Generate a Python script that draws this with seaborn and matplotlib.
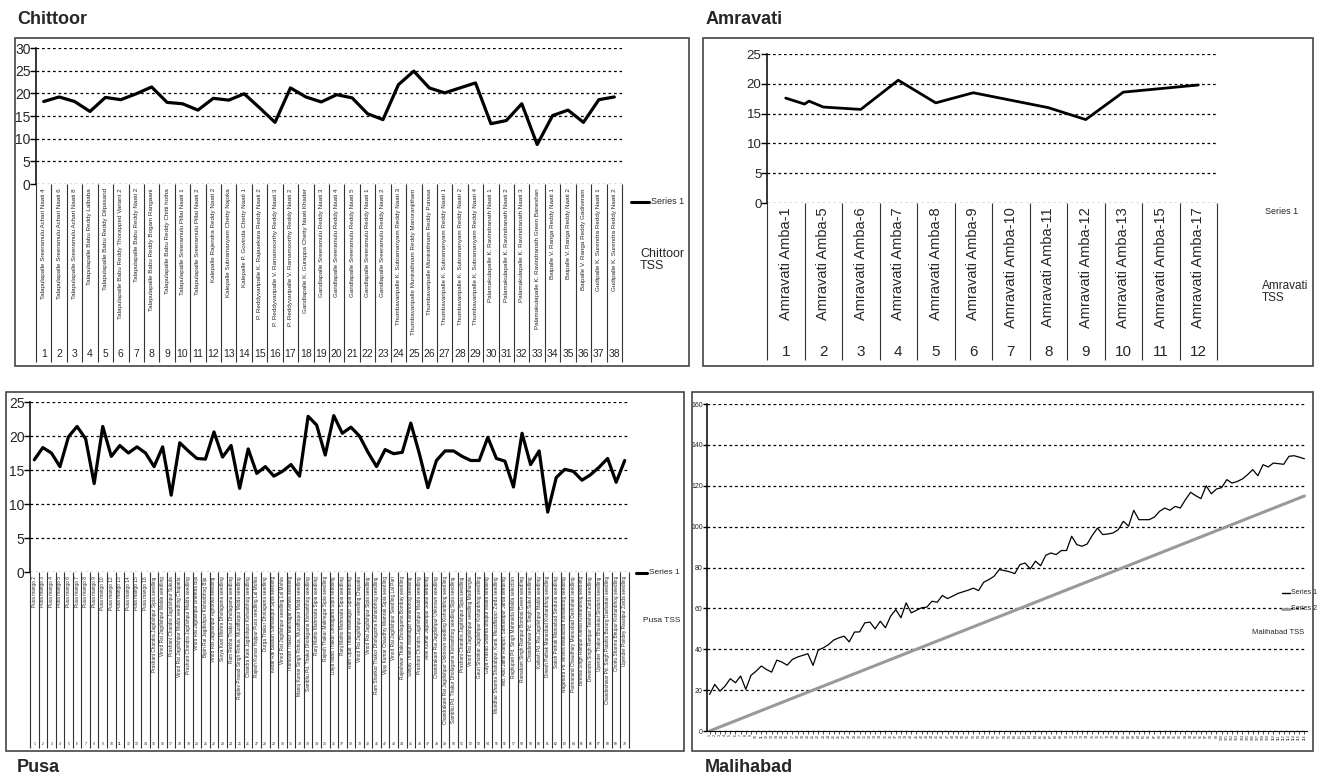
import numpy as np
import pandas as pd
import seaborn as sns
import matplotlib.pyplot as plt
from matplotlib import font_manager
from matplotlib.patches import Rectangle
from matplotlib.lines import Line2D

# ---------------- data ----------------
chittoor_names = [
    'Talapulapalle Sreeramulu Achari Naati 4', 'Talapulapalle Sreeramulu Achari Naati 6',
    'Talapulapalle Sreeramulu Achari Naati 8', 'Talapulapalle Babu Reddy Lalbaba',
    'Talapulapalle Babu Reddy Dilpasand', 'Talapulapalle Babu Reddy Thorapped Variant 2',
    'Talapulapalle Babu Reddy Naati 2', 'Talapulapalle Babu Reddy Bogam Rangaani',
    'Talapulapalle Babu Reddy Chitti hotha', 'Talapulapalle Sreeramulu Pillai Naati 1',
    'Talapulapalle Sreeramulu Pillai Naati 2', 'Kalepalle Rajendra Reddy Naati 2',
    'Kalepalle Subramanyam Chetty Najoka', 'Kalepalle P. Govinda Chetty Naati 1',
    'P. Reddyvaripalle K. Rajasekara Reddy Naati 2', 'P. Reddyvaripalle V. Ramamoorthy Reddy Naati 3',
    'P. Reddyvaripalle V. Ramamoorthy Reddy Naati 2', 'Gandlapalle K. Gurappa Chetty Naati Khader',
    'Gandlapalle Sreeramulu Reddy Naati 3', 'Gandlapalle Sreeramulu Reddy Naati 4',
    'Gandlapalle Sreeramulu Reddy Naati 5', 'Gandlapalle Sreeramulu Reddy Naati 1',
    'Gandlapalle Sreeramulu Reddy Naati 2', 'Thumbavaripalle K. Subramanyam Reddy Naati 3',
    'Thumbavaripalle Munirathnam Reddy Manoranjitham', 'Thumbavaripalle Munirathnam Reddy Punasa',
    'Thumbavaripalle K. Subramanyam Reddy Naati 1', 'Thumbavaripalle K. Subramanyam Reddy Naati 2',
    'Thumbavaripalle K. Subramanyam Reddy Naati 4', 'Palamakulapalle K. Ravindranath Naati 1',
    'Palamakulapalle K. Ravindranath Naati 2', 'Palamakulapalle K. Ravindranath Naati 3',
    'Palamakulapalle K. Ravindranath Green Baneshan', 'Baipalle V. Ranga Reddy Naati 1',
    'Baipalle V. Ranga Reddy Naati 2', 'Baipalle V. Ranga Reddy Gadiveram',
    'Gudipalle K. Surendra Reddy Naati 1', 'Gudipalle K. Surendra Reddy Naati 2']
chittoor_tss = [18.2, 19.2, 18.2, 16.0, 19.1, 18.6, 19.9, 21.4, 18.0, 17.7,
                16.3, 18.9, 18.5, 19.9, 16.8, 13.6, 21.2, 19.2, 18.1, 19.7,
                19.0, 15.5, 14.2, 21.9, 24.9, 21.2, 20.1, 21.2, 22.3, 13.3,
                14.0, 17.7, 8.7, 15.1, 16.3, 13.6, 18.6, 19.2]

amravati_names = ['Amravati Amba-1', 'Amravati Amba-5', 'Amravati Amba-6', 'Amravati Amba-7',
                  'Amravati Amba-8', 'Amravati Amba-9', 'Amravati Amba-10', 'Amravati Amba-11',
                  'Amravati Amba-12', 'Amravati Amba-13', 'Amravati Amba-15', 'Amravati Amba-17']
amravati_pos = [1, 1.5, 1.62, 2, 3, 4, 5, 6, 7, 8, 9, 10, 11, 12]
amravati_tss = [17.6, 16.6, 17.1, 16.1, 15.7, 20.6, 16.8, 18.5, 17.25, 16.0, 14.0, 18.6, 19.2, 19.8]

pusa_names = [
    'Pusa mango 2', 'Pusa mango 3', 'Pusa mango 4', 'Pusa mango 5', 'Pusa mango 6',
    'Pusa mango 7', 'Pusa mango 8', 'Pusa mango 9', 'Pusa mango 10', 'Pusa mango 12',
    'Pusa mango 13', 'Pusa mango 14', 'Pusa mango 15', 'Pusa mango 16',
    'Prashant Chandra Jagdishpur Sipia seedling', 'Vinod Rai Jagdishpur Malda seedling',
    'Prashant Chandra Jagdishpur Sukula', 'Vinod Rai Jagdishpur Malda seedling Chapatia',
    'Prashant Chandra Jagdishpur Malda seedling', 'Vinod Rai Jagdishpur Bhentha Biju',
    'Bipin Rai Jagdishpur Kishanbhog Biju', 'Vinod Rai Jagdishpur Aghorwa seedling',
    'Surya Kant Mishra Dholagama seedling', 'Ram Rekha Thakur Dholagama seedling',
    'Rajdev Prasad Singh Rohua, Muzaffarpur Malda seedling', 'Chandra Kant Jagdishpur Kishanbhog seedling',
    'Rajesh Kumar Hajipur Pusa seedling Lal Mohia', 'Durga Thakur Dholagama seedling',
    'Kedar Rai Basauri Samastipur Sipia seedling', 'Vinod Rai Jagdishpur seedling Lal Mohia',
    'Tribhuvan Thakur Malinagar Kenwa seedling', 'Manoj Kumar Singh Rohua, Muzaffarpur Malda seedling',
    'Sambhu Pd. Thakur Dholagama Kishanbhog seedling', 'Ranj Mahto Mahmada Sipia seedling',
    'Rajesh Thakur Malinagar Sipia seedling', 'Daya Nand Thakur Dholagama Sipia seedling',
    'Ranj Mahto Mahmada Sipia seedling', 'Ram Upat Thakur Malinagar Sipia seedling',
    'Vinod Rai Jagdishpur seedling Chapatia', 'Vinod Rai Jagdishpur Sipia seedling',
    'Ram Shankar Thakur Dholagama Kishanbhog seedling', 'Vijay Kumar Chaudhry Mamrak Sipia seedling',
    'Vinod Rai Jagdishpur Seedling Lal Pari', 'Rajeshwar Thakur Dholagama Bombay seedling',
    'Sanjay Thakur Malinagar Kishanbhog seedling', 'Prashant Chandra Jagdishpur Malda seedling',
    'Alok Kumar Jagdishpur Sukul seedling', 'Chandrakant Rai Jagdishpur Unknown seedling',
    'Chandrakant Rai Jagdishpur Unknown seedling Kishanbhog seedling',
    'Sambhu Pd. Thakur Dholagama Kishanbhog seedling Sipia seedling',
    'Prashant Chandra Jagdishpur Sipia seedling', 'Vinod Rai Jagdishpur seedling Madhurgia',
    'Gauri Shankar Jagdishpur Kishanbhog seedling', 'Gaya Prasad Sharma Bhupur Malda seedling',
    'Muridhar Sharma Shahabpur, Kanti, Muzaffarpur Zarda seedling', 'Md. Abu Jaffar Rampur, Samastipur Jarda seedling',
    'Raghupati Pd. Singh Mahmada Malda selection', 'Ramakant Singh Rampur Bombai Green seedling',
    'Chandeshwar Pd. Singh Sukul seedling', 'Kailash Pd. Rai Jagdishpur Malda seedling',
    'Dinesh Pathak Manusbad Kishanbhog seedling', 'Satish Pathak Manusbad Sinduria seedling',
    'Nagendra Pd. Mishra Manusbad Kishanbhog seedling', 'Parmanand Chaudhary Manusbad Dashahari seedling',
    'Birkhali Singh Rampur Kamal Kishanbhog seedling', 'Devendra Singh Rampur Telehari Zarda seedling',
    'Upender Thakur Bhuskaul Sinduria seedling', 'Chandeshwar Pd. Singh Patahia Buzurg Dashahari seedling',
    'Chottu Sharma Bhupur Kishanbhog seedling', 'Upender Pandey Rasalpur Zarda seedling']
pusa_tss = [16.5, 18.3, 17.5, 15.5, 19.9, 21.4, 19.6, 13.0, 21.4, 17.0,
            18.6, 17.5, 18.4, 17.5, 15.5, 18.4, 11.3, 19.0, 17.8, 16.7,
            16.6, 20.6, 16.9, 18.6, 12.3, 18.1, 14.5, 15.5, 14.1, 14.8,
            15.8, 14.1, 22.9, 21.6, 17.2, 23.0, 20.4, 21.3, 20.0, 17.6,
            15.5, 18.0, 17.4, 17.6, 21.9, 17.4, 12.4, 16.4, 17.8, 17.8,
            17.0, 16.4, 16.4, 19.8, 16.7, 16.3, 12.5, 20.4, 15.8, 17.8,
            8.8, 13.9, 15.1, 14.8, 13.5, 14.3, 15.4, 16.7, 13.2, 16.4]

malihabad_s1 = [17.9, 22.8, 19.5, 22.0, 25.6, 23.6, 26.9, 20.4, 27.2, 29.3,
                31.8, 30.1, 28.8, 34.7, 33.7, 32.2, 35.0, 36.2, 37.0, 37.8,
                32.1, 39.6, 40.7, 42.3, 44.5, 45.6, 46.4, 43.6, 48.4, 48.5,
                52.9, 53.3, 50.0, 53.7, 50.5, 56.2, 59.4, 55.4, 62.7, 57.8,
                59.1, 60.3, 60.6, 63.5, 63.0, 66.3, 64.8, 66.0, 67.3, 68.1,
                68.9, 69.9, 68.7, 72.8, 74.1, 75.7, 79.0, 78.5, 77.9, 77.0,
                81.4, 82.2, 79.3, 83.1, 80.9, 86.0, 87.1, 86.3, 88.3, 88.3,
                95.3, 91.2, 90.4, 91.5, 95.8, 99.3, 96.1, 96.4, 96.9, 98.5,
                102.6, 100.2, 108.0, 103.4, 103.4, 103.4, 104.7, 107.5, 109.1, 108.0,
                109.9, 109.1, 113.2, 116.8, 115.1, 113.7, 120.0, 116.1, 118.4, 119.1,
                123.0, 121.3, 122.1, 123.3, 125.4, 127.9, 124.9, 130.3, 129.2, 131.1,
                130.8, 130.5, 134.4, 134.7, 134.0, 133.2]
malihabad_s2 = [0, 1, 2, 3, 4, 5, 6, 7, 8, 9, 10, 11, 12, 13, 14, 15, 16, 17, 18, 19,
                20, 21, 22, 23, 24, 25, 26, 27, 28, 29, 30, 31, 32, 33, 34, 35, 36, 37, 38, 39,
                40, 41, 42, 43, 44, 45, 46, 47, 48, 49, 50, 51, 52, 53, 54, 55, 56, 57, 58, 59,
                60, 61, 62, 63, 64, 65, 66, 67, 68, 69, 70, 71, 72, 73, 74, 75, 76, 77, 78, 79,
                80, 81, 82, 83, 84, 85, 86, 87, 88, 89, 90, 91, 92, 93, 94, 95, 96, 97, 98, 99,
                100, 101, 102, 103, 104, 105, 106, 107, 108, 109, 110, 111, 112, 113, 114, 115]
malihabad_ticks = [str(i + 1) for i in range(len(malihabad_s1))]

# ---------------- style ----------------
sns.set_theme(style='white')
installed = {f.name for f in font_manager.fontManager.ttflist}
narrow = 'Liberation Sans Narrow' if 'Liberation Sans Narrow' in installed else 'Liberation Sans'
plt.rcParams['font.family'] = ['Liberation Sans', 'DejaVu Sans']

W, H = 1320, 782
fig = plt.figure(figsize=(W / 100, H / 100), dpi=100)
fig.patch.set_facecolor('white')


def px_axes(l, t, r, b):
    return fig.add_axes([l / W, 1 - b / H, (r - l) / W, (b - t) / H])


def frame(l, t, r, b):
    fig.add_artist(Rectangle((l / W, 1 - b / H), (r - l) / W, (b - t) / H,
                             transform=fig.transFigure, fill=False, ec='#444444', lw=1.2))


def ftext(x, y, s, **kw):
    fig.text(x / W, 1 - y / H, s, **kw)


def fline(x0, x1, y, **kw):
    fig.add_artist(Line2D([x0 / W, x1 / W], [1 - y / H, 1 - y / H], transform=fig.transFigure, **kw))


def style_y(ax, ymax, ystep, size):
    ax.set_ylim(0, ymax)
    ax.set_yticks(np.arange(0, ymax + 1, ystep))
    ax.yaxis.grid(True, ls=(0, (2.2, 2.2)), color='black', lw=0.9)
    ax.xaxis.grid(False)
    ax.set_axisbelow(True)
    for s in ['top', 'right', 'bottom']:
        ax.spines[s].set_visible(False)
    ax.spines['left'].set_color('black')
    ax.spines['left'].set_linewidth(1.1)
    ax.tick_params(axis='y', left=True, length=4, width=1, color='black', labelsize=size, pad=0)
    ax.set_xlabel('')
    ax.set_ylabel('')


def category_panel(box, names, pos, vals, ymax, ystep, sep_bottom, num_y,
                   name_size, name_font, num_size, ytick_size, lw):
    l, t, r, b = box
    ax = px_axes(l, t, r, b)
    df = pd.DataFrame({'pos': pos, 'tss': vals})
    sns.lineplot(data=df, x='pos', y='tss', ax=ax, color='black', lw=lw,
                 legend=False, sort=False, estimator=None)
    n = len(names)
    ax.set_xlim(0.5, n + 0.5)
    style_y(ax, ymax, ystep, ytick_size)
    ax.set_xticks(range(1, n + 1))
    ax.set_xticklabels(names, rotation=90, fontsize=name_size, family=name_font)
    ax.tick_params(axis='x', length=0, pad=3)
    h = b - t
    sep_frac = -(sep_bottom - b) / h
    num_frac = -(num_y - b) / h
    ax.vlines(np.arange(n + 1) + 0.5, sep_frac, 0, transform=ax.get_xaxis_transform(),
              colors='#333333', lw=0.8, clip_on=False)
    for i in range(n):
        ax.text(i + 1, num_frac, str(i + 1), transform=ax.get_xaxis_transform(),
                ha='center', va='center', fontsize=num_size, family=name_font, clip_on=False)
    return ax


# ---------------- Chittoor ----------------
frame(15, 38, 689, 366)
category_panel((36, 48, 622, 184), chittoor_names, list(range(1, len(chittoor_tss) + 1)), chittoor_tss,
               30, 5, 362, 354, 4.5, narrow, 7.5, 10, 2.3)
ftext(17, 20, 'Chittoor', fontsize=13, fontweight='bold', va='center')
fline(631, 649, 202, color='black', lw=2.2)
ftext(651, 202, 'Series 1', fontsize=6.5, family=narrow, va='center')
ftext(640, 260, 'Chittoor\nTSS', fontsize=9, va='center', linespacing=0.95)

# ---------------- Amravati ----------------
frame(703, 38, 1313, 366)
category_panel((767, 54, 1217, 203), amravati_names, amravati_pos, amravati_tss,
               25, 5, 360, 352, 10.5, 'Liberation Sans', 11, 9.5, 2.0)
ftext(706, 20, 'Amravati', fontsize=13, fontweight='bold', va='center')
ftext(1265, 211, 'Series 1', fontsize=6.5, family=narrow, va='center')
ftext(1262, 292, 'Amravati\nTSS', fontsize=8.5, va='center', linespacing=0.95)

# ---------------- Pusa ----------------
frame(6, 392, 684, 751)
category_panel((30, 402, 629, 572), pusa_names, list(range(1, len(pusa_tss) + 1)), pusa_tss,
               25, 5, 748, 744, 3.4, narrow, 2.5, 10, 2.3)
ftext(17, 768, 'Pusa', fontsize=13, fontweight='bold', va='center')
fline(636, 647, 573, color='black', lw=2.2)
ftext(649, 573, 'Series 1', fontsize=6, family=narrow, va='center')
ftext(643, 620, 'Pusa TSS', fontsize=6, family=narrow, va='center')

# ---------------- Malihabad ----------------
frame(692, 392, 1313, 751)
ax = px_axes(707, 404, 1307, 731)
n = len(malihabad_s1)
mal = pd.DataFrame({'pos': range(1, n + 1), 'Series 1': malihabad_s1, 'Series 2': malihabad_s2})
mal = mal.melt(id_vars='pos', var_name='series', value_name='tss')
sns.lineplot(data=mal, x='pos', y='tss', hue='series', size='series', ax=ax,
             palette={'Series 1': 'black', 'Series 2': '#999999'},
             sizes={'Series 1': 0.9, 'Series 2': 2.2}, legend=False, estimator=None)
ax.set_xlim(0.5, n + 0.5)
style_y(ax, 160, 20, 5)
ax.tick_params(axis='y', length=3, labelsize=5)
ax.spines['bottom'].set_visible(True)
ax.spines['bottom'].set_color('black')
ax.spines['bottom'].set_linewidth(0.8)
ax.set_xticks(range(1, n + 1))
ax.set_xticklabels(malihabad_ticks, rotation=90, fontsize=2.6, family=narrow)
ax.tick_params(axis='x', bottom=True, length=2, width=0.5, color='black', pad=0.5)
ftext(705, 768, 'Malihabad', fontsize=13, fontweight='bold', va='center')
fline(1282, 1290, 593, color='black', lw=1.0)
ftext(1291, 593, 'Series 1', fontsize=5, family=narrow, va='center')
fline(1282, 1290, 609, color='#999999', lw=2.0)
ftext(1291, 609, 'Series 2', fontsize=5, family=narrow, va='center')
ftext(1252, 632, 'Malihabad TSS', fontsize=5.5, family=narrow, va='center')

fig.savefig('out.png', dpi=100)
